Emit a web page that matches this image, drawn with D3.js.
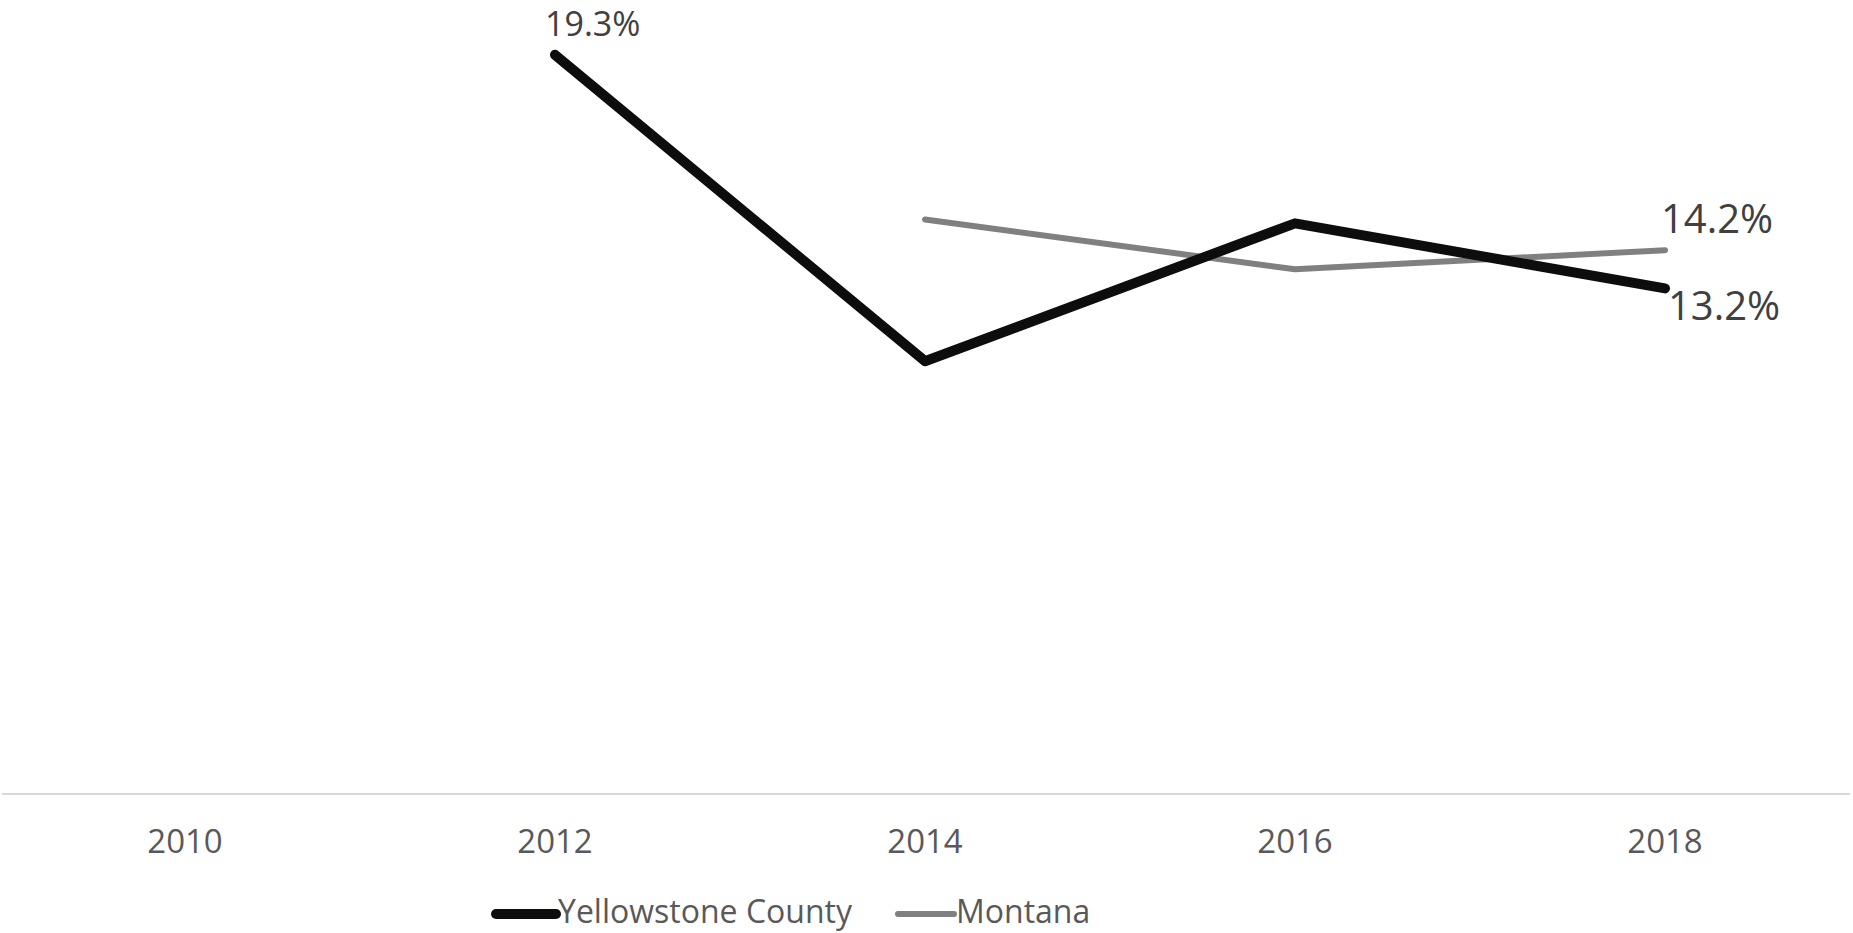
<!DOCTYPE html>
<html>
<head>
<meta charset="utf-8">
<script src="https://cdn.jsdelivr.net/npm/d3@7"></script>
<style>
  html, body { margin: 0; padding: 0; background: #ffffff; }
  svg { display: block; }
  text { font-family: "Open Sans", "Noto Sans", sans-serif; }
</style>
</head>
<body>
<svg id="chart" width="1853" height="933"></svg>
<script>
// Survey years along the category axis
const years = ["2010", "2012", "2014", "2016", "2018"];
// Percent values per year (null = no estimate for that year)
const yellowstoneValues = [null, 19.3, 11.3, 14.9, 13.2];
const montanaValues = [null, null, 15.0, 13.7, 14.2];
const seriesNames = ["Yellowstone County", "Montana"];

const W = 1853, H = 933;
const svg = d3.select("#chart");

const x = d3.scaleBand().domain(years).range([0, 1850]).padding(0);
const y = d3.scaleLinear().domain([0, 20]).range([794, 28]);
const cx = d => x(d) + x.bandwidth() / 2;

// Horizontal category axis line
svg.append("line")
  .attr("x1", 2).attr("x2", 1850)
  .attr("y1", y(0)).attr("y2", y(0))
  .attr("stroke", "#d9d9d9").attr("stroke-width", 2);

// Year labels
const axis = d3.axisBottom(x).tickSize(0).tickPadding(0);
const gx = svg.append("g").attr("transform", `translate(0,${y(0)})`).call(axis);
gx.select(".domain").remove();
gx.selectAll("text")
  .attr("y", 59).attr("dy", null)
  .attr("fill", "#595959")
  .style("font-size", "33px")
  .style("font-family", "'Open Sans', sans-serif");

const series = [
  { name: seriesNames[0], values: yellowstoneValues, color: "#0d0d0d", width: 10 },
  { name: seriesNames[1], values: montanaValues, color: "#808080", width: 6 }
];

const line = d3.line()
  .defined(d => d.v != null)
  .x(d => cx(d.year))
  .y(d => y(d.v));

// Montana drawn first so the county line sits on top
[series[1], series[0]].forEach(s => {
  const pts = years.map((yr, i) => ({ year: yr, v: s.values[i] }));
  svg.append("path")
    .datum(pts)
    .attr("fill", "none")
    .attr("stroke", s.color)
    .attr("stroke-width", s.width)
    .attr("stroke-linecap", "round")
    .attr("stroke-linejoin", "round")
    .attr("d", line);
});

// Data labels
const labels = [
  { values: yellowstoneValues, year: "2012", dx: -10, dy: -19, size: 34 },
  { values: montanaValues, year: "2018", dx: -4, dy: -17, size: 40 },
  { values: yellowstoneValues, year: "2018", dx: 3, dy: 32, size: 40 }
];
labels.forEach(l => {
  const v = l.values[years.indexOf(l.year)];
  svg.append("text")
    .attr("x", cx(l.year) + l.dx)
    .attr("y", y(v) + l.dy)
    .attr("fill", "#404040")
    .style("font-size", l.size + "px")
    .text(v.toFixed(1) + "%");
});

// Legend
const legend = [
  { s: series[0], x1: 496, x2: 556, tx: 558 },
  { s: series[1], x1: 898, x2: 954, tx: 956 }
];
legend.forEach(l => {
  svg.append("line")
    .attr("x1", l.x1).attr("x2", l.x2)
    .attr("y1", 914).attr("y2", 914)
    .attr("stroke", l.s.color)
    .attr("stroke-width", l.s.width)
    .attr("stroke-linecap", "round");
  svg.append("text")
    .attr("x", l.tx).attr("y", 923)
    .attr("fill", "#595959")
    .style("font-size", "32px")
    .text(l.s.name);
});
</script>
</body>
</html>
